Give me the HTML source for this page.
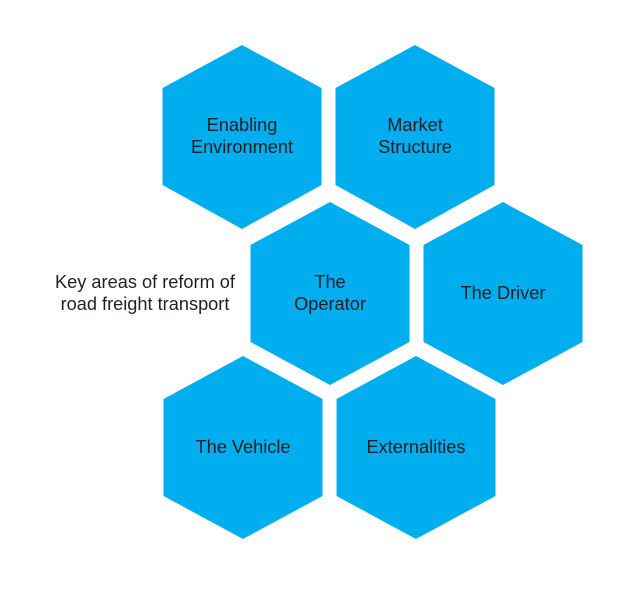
<!DOCTYPE html>
<html><head><meta charset="utf-8"><style>
body{margin:0;background:#fff;}
svg{display:block}
text{font-family:"Liberation Sans",Arial,sans-serif;font-size:18.2px;fill:#231f20;text-anchor:middle;}
</style></head><body>
<svg width="626" height="602" viewBox="0 0 626 602">
<g fill="#00aeef">
<polygon points="242,45 321.5,88 321.5,185 242,229 162.5,185 162.5,88"/>
<polygon points="415,45 494.5,88 494.5,185 415,229 335.5,185 335.5,88"/>
<polygon points="330,202 409.5,245 409.5,342 330,385 250.5,342 250.5,245"/>
<polygon points="503,202 582.5,245 582.5,342 503,385 423.5,342 423.5,245"/>
<polygon points="243,356 322.5,399 322.5,496 243,539 163.5,496 163.5,399"/>
<polygon points="416,356 495.5,399 495.5,496 416,539 336.5,496 336.5,399"/>
</g>
<text x="242" y="131">Enabling</text>
<text x="242" y="153">Environment</text>
<text x="415" y="131">Market</text>
<text x="415" y="153">Structure</text>
<text x="330" y="288">The</text>
<text x="330" y="310">Operator</text>
<text x="503" y="299">The Driver</text>
<text x="243" y="453">The Vehicle</text>
<text x="416" y="453">Externalities</text>
<text x="145" y="288">Key areas of reform of</text>
<text x="145" y="310">road freight transport</text>
</svg>
</body></html>
